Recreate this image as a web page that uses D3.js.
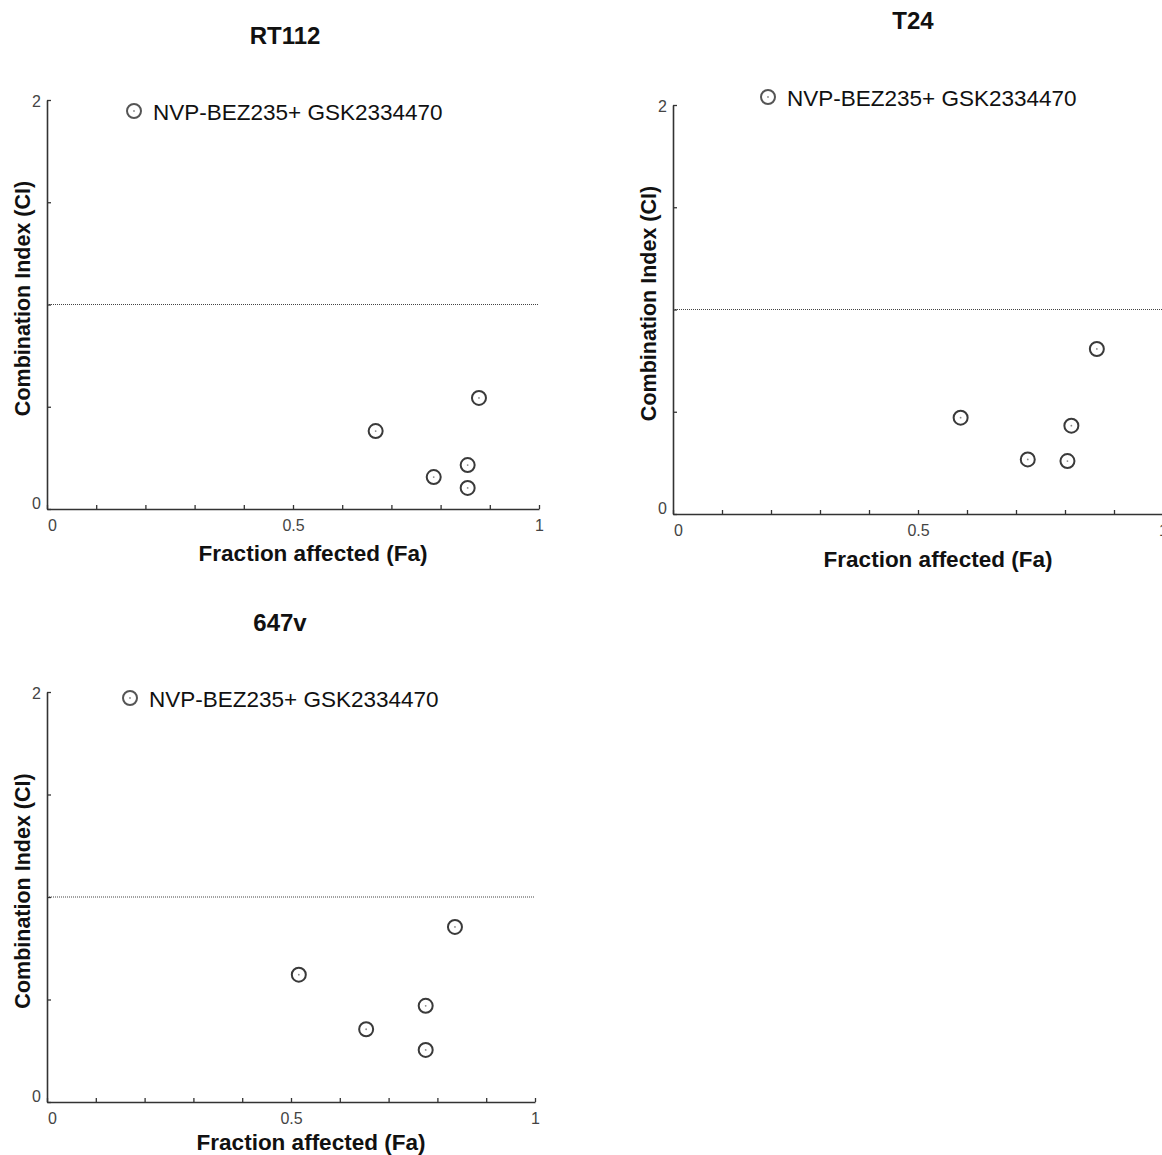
<!DOCTYPE html>
<html>
<head>
<meta charset="utf-8">
<script src="https://cdn.jsdelivr.net/npm/d3@7"></script>
<style>
  html, body { margin: 0; padding: 0; background: #fff; }
  svg { display: block; }
  text { font-family: "Liberation Sans", Arial, sans-serif; }
</style>
</head>
<body>
<svg id="chart" width="1162" height="1155"></svg>
<script>
// ---- data ----
const panelTitles = ["RT112", "T24", "647v"];
const legendLabel = "NVP-BEZ235+ GSK2334470";
const xAxisTitle = "Fraction affected (Fa)";
const yAxisTitle = "Combination Index (CI)";

const rt112Fa = [0.668, 0.878, 0.855, 0.786, 0.855];
const rt112Ci = [0.381, 0.543, 0.215, 0.156, 0.103];

const t24Fa = [0.865, 0.587, 0.813, 0.724, 0.805];
const t24Ci = [0.807, 0.471, 0.432, 0.267, 0.259];

const v647Fa = [0.516, 0.776, 0.654, 0.776, 0.836];
const v647Ci = [0.621, 0.469, 0.355, 0.254, 0.854];

const xTickValues = [0, 0.1, 0.2, 0.3, 0.4, 0.5, 0.6, 0.7, 0.8, 0.9, 1];
const xTickLabels = { 0: "0", 0.5: "0.5", 1: "1" };
const yTickValues = [0, 0.5, 1, 1.5, 2];
const yTickLabels = { 0: "0", 2: "2" };
const referenceCi = 1;

// ---- layout ----
const panels = [
  { title: panelTitles[0], fa: rt112Fa, ci: rt112Ci,
    x0: 47, x1: 539, y0: 509, y1: 100, titleX: 285, titleY: 44,
    legX: 134, legY: 111, yLabX: 30, xLabY: 561 },
  { title: panelTitles[1], fa: t24Fa, ci: t24Ci,
    x0: 673, x1: 1163, y0: 514, y1: 105, titleX: 913, titleY: 29,
    legX: 768, legY: 97, yLabX: 656, xLabY: 567 },
  { title: panelTitles[2], fa: v647Fa, ci: v647Ci,
    x0: 47, x1: 535, y0: 1102, y1: 692, titleX: 280, titleY: 631,
    legX: 130, legY: 698, yLabX: 30, xLabY: 1150 }
];

const svg = d3.select("#chart");
const axisColor = "#333";

panels.forEach(p => {
  const g = svg.append("g");
  const x = d3.scaleLinear().domain([0, 1]).range([p.x0, p.x1]);
  const y = d3.scaleLinear().domain([0, 2]).range([p.y0, p.y1]);

  // reference line CI = 1
  g.append("line")
    .attr("x1", x(0)).attr("x2", x(1))
    .attr("y1", y(referenceCi)).attr("y2", y(referenceCi))
    .attr("stroke", "#444").attr("stroke-width", 1.2)
    .attr("stroke-dasharray", "1,1");

  // x axis
  const xa = g.append("g")
    .attr("transform", `translate(0,${p.y0})`)
    .call(d3.axisBottom(x).tickValues(xTickValues)
      .tickSizeInner(-4).tickSizeOuter(0).tickPadding(11)
      .tickFormat(d => xTickLabels[d] !== undefined ? xTickLabels[d] : ""));
  xa.attr("font-size", 16);
  xa.select(".domain").attr("stroke", axisColor).attr("stroke-width", 1.6);
  xa.selectAll(".tick line").attr("stroke", axisColor).attr("stroke-width", 1.3);
  xa.selectAll(".tick text").attr("fill", "#444")
    .attr("font-family", "Liberation Sans, Arial, sans-serif")
    .attr("dx", d => d === 0 ? 5 : 0);

  // y axis
  const ya = g.append("g")
    .attr("transform", `translate(${p.x0},0)`)
    .call(d3.axisLeft(y).tickValues(yTickValues)
      .tickSizeInner(-4).tickSizeOuter(0).tickPadding(6)
      .tickFormat(d => yTickLabels[d] !== undefined ? yTickLabels[d] : ""));
  ya.attr("font-size", 16);
  ya.select(".domain").attr("stroke", axisColor).attr("stroke-width", 1.6);
  ya.selectAll(".tick line").attr("stroke", axisColor).attr("stroke-width", 1.3);
  ya.selectAll(".tick text").attr("fill", "#444")
    .attr("font-family", "Liberation Sans, Arial, sans-serif")
    .attr("dy", d => d === 0 ? "-0.05em" : "0.4em");

  // title
  g.append("text")
    .attr("x", p.titleX).attr("y", p.titleY)
    .attr("text-anchor", "middle")
    .attr("font-weight", "bold").attr("font-size", 24).attr("fill", "#111")
    .text(p.title);

  // axis titles
  g.append("text")
    .attr("x", (p.x0 + p.x1) / 2 + 20)
    .attr("y", p.xLabY)
    .attr("text-anchor", "middle")
    .attr("font-weight", "bold").attr("font-size", 22.5).attr("fill", "#111")
    .text(xAxisTitle);

  g.append("text")
    .attr("transform", `translate(${p.yLabX},${(p.y0 + p.y1) / 2 - 6}) rotate(-90)`)
    .attr("text-anchor", "middle")
    .attr("font-weight", "bold").attr("font-size", 21.5).attr("fill", "#111")
    .text(yAxisTitle);

  // points
  const pts = g.append("g");
  p.fa.forEach((fa, i) => {
    pts.append("circle")
      .attr("cx", x(fa)).attr("cy", y(p.ci[i])).attr("r", 7)
      .attr("fill", "none").attr("stroke", "#3a3a3a").attr("stroke-width", 2);
    pts.append("circle")
      .attr("cx", x(fa)).attr("cy", y(p.ci[i])).attr("r", 0.9)
      .attr("fill", "#888");
  });

  // legend
  g.append("circle")
    .attr("cx", p.legX).attr("cy", p.legY).attr("r", 7)
    .attr("fill", "none").attr("stroke", "#555").attr("stroke-width", 2);
  g.append("circle")
    .attr("cx", p.legX).attr("cy", p.legY).attr("r", 0.9).attr("fill", "#888");
  g.append("text")
    .attr("x", p.legX + 19).attr("y", p.legY + 9)
    .attr("font-size", 22.5).attr("fill", "#111")
    .text(legendLabel);
});
</script>
</body>
</html>
